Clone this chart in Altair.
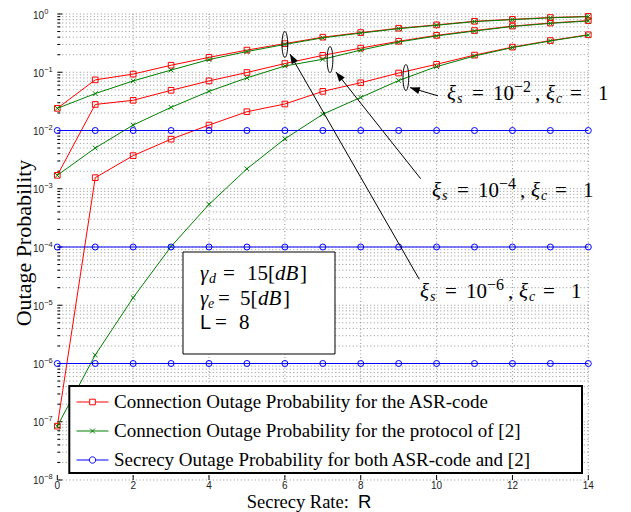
import json
import altair as alt
import pandas as pd

# ---------------- data ----------------
R = list(range(15))
ASR_XI2 = [0.024, 0.074, 0.093, 0.132, 0.18, 0.24, 0.31, 0.40, 0.48, 0.57, 0.65, 0.75, 0.81, 0.87, 0.91]
ASR_XI4 = [0.0017, 0.028, 0.033, 0.049, 0.071, 0.099, 0.141, 0.195, 0.26, 0.34, 0.43, 0.52, 0.62, 0.70, 0.77]
ASR_XI6 = [8.4e-8, 0.00155, 0.0037, 0.0071, 0.0124, 0.021, 0.0285, 0.047, 0.066, 0.097, 0.137, 0.197, 0.27, 0.35, 0.44]
P2_XI2 = [0.024, 0.043, 0.071, 0.109, 0.165, 0.227, 0.30, 0.39, 0.47, 0.56, 0.64, 0.74, 0.80, 0.86, 0.90]
P2_XI4 = [0.0017, 0.005, 0.0124, 0.025, 0.047, 0.080, 0.128, 0.167, 0.24, 0.33, 0.42, 0.51, 0.61, 0.69, 0.76]
P2_XI6 = [8.4e-8, 1.4e-6, 1.35e-5, 1.02e-4, 5.4e-4, 0.0022, 0.0072, 0.019, 0.037, 0.072, 0.125, 0.19, 0.265, 0.345, 0.435]
SEC_XI2 = [1e-2, 1e-2, 1e-2, 1e-2, 1e-2, 1e-2, 1e-2, 1e-2, 1e-2, 1e-2, 1e-2, 1e-2, 1e-2, 1e-2, 1e-2]
SEC_XI4 = [1e-4, 1e-4, 1e-4, 1e-4, 1e-4, 1e-4, 1e-4, 1e-4, 1e-4, 1e-4, 1e-4, 1e-4, 1e-4, 1e-4, 1e-4]
SEC_XI6 = [1e-6, 1e-6, 1e-6, 1e-6, 1e-6, 1e-6, 1e-6, 1e-6, 1e-6, 1e-6, 1e-6, 1e-6, 1e-6, 1e-6, 1e-6]

LABELS = ["Connection Outage Probability for the ASR-code",
          "Connection Outage Probability for the protocol of [2]",
          "Secrecy Outage Probability for both ASR-code and [2]"]
COLORS = ["#ff0000", "#008000", "#0000ff"]

X_TICKS = [0, 2, 4, 6, 8, 10, 12, 14]
X_TICK_TEXT = ["0", "2", "4", "6", "8", "10", "12", "14"]
Y_MAJOR = [1e-8, 1e-7, 1e-6, 1e-5, 1e-4, 1e-3, 1e-2, 1e-1, 1e0]
Y_EXP = ["\u22128", "\u22127", "\u22126", "\u22125", "\u22124", "\u22123", "\u22122", "\u22121", "0"]
Y_MINOR = [k * m for m in Y_MAJOR[:-1] for k in range(2, 10)]

X_TITLE = "Secrecy Rate:"
X_TITLE_VAR = "R"
Y_TITLE = "Outage Probability"

# annotation (ellipse / arrow) anchors in data coordinates
ELL_X = [6.00, 7.19, 9.19]
ELL_Y = [0.300, 0.165, 0.0810]
ARR_X0 = [9.544, 9.581, 10.04]
ARR_Y0 = [2.786e-5, 1.486e-3, 0.0393]
ARR_X1 = [6.135, 7.348, 9.30]
ARR_Y1 = [0.205, 0.101, 0.0545]
ARR_ANG = [330.5, 322, 288]

# ---------------- layout constants ----------------
OX, OY = 57.3, 14.0
W, H = 531, 466

xs = alt.Scale(domain=[0, 14], nice=False, zero=False)
ys = alt.Scale(type="log", domain=[1e-8, 1], nice=False)

rows = []
for lab, key, arrs in [(LABELS[0], "asr", [ASR_XI2, ASR_XI4, ASR_XI6]),
                       (LABELS[1], "p2", [P2_XI2, P2_XI4, P2_XI6]),
                       (LABELS[2], "sec", [SEC_XI2, SEC_XI4, SEC_XI6])]:
    for xi, arr in zip(["1e-2", "1e-4", "1e-6"], arrs):
        for r, p in zip(R, arr):
            rows.append({"R": r, "P": p, "scheme": lab, "key": key, "curve": key + xi})
df = pd.DataFrame(rows)

GRID_COLOR = "#777777"
grid_df = pd.DataFrame({"v": Y_MAJOR + Y_MINOR})
vgrid_df = pd.DataFrame({"R": X_TICKS[1:]})
major_df = pd.DataFrame({"v": Y_MAJOR, "e": Y_EXP, "b": ["10"] * len(Y_MAJOR)})
minor_df = pd.DataFrame({"v": Y_MINOR})
xt_df = pd.DataFrame({"R": X_TICKS, "t": X_TICK_TEXT})


def xq(f, axis=None):
    return alt.X(f, type="quantitative", scale=xs, axis=axis)


def yq(f, axis=None):
    return alt.Y(f, type="quantitative", scale=ys, axis=axis)


x_axis = alt.Axis(values=X_TICKS, grid=False, ticks=False, labels=False, domainColor="black", title=None)
y_axis = alt.Axis(values=Y_MAJOR, grid=False, ticks=False, labels=False, domainColor="black", title=None)

layers = []
# grids (also carry the axis lines)
layers.append(alt.Chart(vgrid_df).mark_rule(color=GRID_COLOR, strokeWidth=0.8, strokeDash=[1, 2.5])
              .encode(x=xq("R", x_axis)))
layers.append(alt.Chart(grid_df).mark_rule(color=GRID_COLOR, strokeWidth=0.8, strokeDash=[1, 2.5])
              .encode(y=yq("v", y_axis)))
# inward ticks
layers.append(alt.Chart(major_df).mark_rule(color="black", strokeWidth=1)
              .encode(y=yq("v"), x=alt.value(0), x2=alt.value(5)))
layers.append(alt.Chart(minor_df).mark_rule(color="black", strokeWidth=1)
              .encode(y=yq("v"), x=alt.value(0), x2=alt.value(3)))
layers.append(alt.Chart(xt_df).mark_rule(color="black", strokeWidth=1)
              .encode(x=xq("R"), y=alt.value(H), y2=alt.value(H - 5)))
# tick labels
layers.append(alt.Chart(major_df).mark_text(align="right", baseline="middle", font="Liberation Sans",
                                            fontSize=10, color="#222222", dy=1.5)
              .encode(y=yq("v"), x=alt.value(-13.3), text="b:N"))
layers.append(alt.Chart(major_df).mark_text(align="left", baseline="middle", font="Liberation Sans",
                                            fontSize=7.5, color="#222222", dy=-2.5)
              .encode(y=yq("v"), x=alt.value(-13.1), text="e:N"))
layers.append(alt.Chart(xt_df).mark_text(align="center", baseline="middle", font="Liberation Sans",
                                         fontSize=10, color="#222222")
              .encode(x=xq("R"), y=alt.value(H + 6), text="t:N"))
# axis titles
layers.append(alt.Chart(pd.DataFrame({"t": [Y_TITLE]})).mark_text(
    align="center", baseline="middle", font="Liberation Serif", fontSize=22, color="black", angle=270)
    .encode(text="t:N", x=alt.value(24 - OX), y=alt.value(243 - OY)))
layers.append(alt.Chart(pd.DataFrame({"t": [X_TITLE]})).mark_text(
    align="left", baseline="alphabetic", font="Liberation Serif", fontSize=18.5, color="black")
    .encode(text="t:N", x=alt.value(246.7 - OX), y=alt.value(508.5 - OY)))
layers.append(alt.Chart(pd.DataFrame({"t": [X_TITLE_VAR]})).mark_text(
    align="left", baseline="alphabetic", font="Liberation Sans", fontSize=18.5, color="black")
    .encode(text="t:N", x=alt.value(358 - OX), y=alt.value(508.5 - OY)))

# data curves
markers = {
    "asr": dict(shape="square", size=32),
    "p2": dict(shape="M-1,-1L1,1M-1,1L1,-1", size=22),
    "sec": dict(shape="circle", size=36),
}
for key, col in zip(["asr", "p2", "sec"], COLORS):
    sub = df[df["key"] == key]
    line = alt.Chart(sub).mark_line(color=col, strokeWidth=1).encode(
        x=xq("R"), y=yq("P"), detail="curve:N")
    pts = alt.Chart(sub).mark_point(color=col, filled=False, strokeWidth=1, opacity=1, **markers[key]).encode(
        x=xq("R"), y=yq("P"))
    layers += [line, pts]

# ellipses & arrows
ELLIPSE = ("M0,-1 C0.1215,-1 0.22,-0.5523 0.22,0 C0.22,0.5523 0.1215,1 0,1 "
           "C-0.1215,1 -0.22,0.5523 -0.22,0 C-0.22,-0.5523 -0.1215,-1 0,-1 Z")
ARROW = "M0,0 L-0.36,1 L0.36,1 Z"
ell_df = pd.DataFrame({"x": ELL_X, "y": ELL_Y})
arr_df = pd.DataFrame({"x0": ARR_X0, "y0": ARR_Y0, "x1": ARR_X1, "y1": ARR_Y1, "ang": ARR_ANG})
layers.append(alt.Chart(ell_df).mark_point(shape=ELLIPSE, size=676, filled=False, color="black",
                                           strokeWidth=1, opacity=1).encode(x=xq("x"), y=yq("y")))
layers.append(alt.Chart(arr_df).mark_rule(color="black", strokeWidth=1).encode(
    x=xq("x0"), y=yq("y0"), x2="x1:Q", y2="y1:Q"))
layers.append(alt.Chart(arr_df).mark_point(shape=ARROW, size=380, filled=True, color="black", opacity=1)
              .encode(x=xq("x1"), y=yq("y1"), angle=alt.Angle("ang:Q", scale=None)))

dummy = pd.DataFrame({"a": [0]})
# legend box and parameter box
layers.append(alt.Chart(dummy).mark_rect(fill="white", stroke="black", strokeWidth=2).encode(
    x=alt.value(69.3 - OX), x2=alt.value(582 - OX), y=alt.value(386 - OY), y2=alt.value(473 - OY)))
layers.append(alt.Chart(dummy).mark_rect(fill="white", stroke="black", strokeWidth=1).encode(
    x=alt.value(183 - OX), x2=alt.value(335 - OX), y=alt.value(252 - OY), y2=alt.value(354 - OY)))


def txt(s, x, y, size, italic=False, font="Liberation Serif"):
    return alt.Chart(pd.DataFrame({"t": [s]})).mark_text(
        align="left", baseline="alphabetic", font=font, fontSize=size,
        fontStyle="italic" if italic else "normal", color="black").encode(
        text="t:N", x=alt.value(x - OX), y=alt.value(y - OY))


# xi labels
for x0, b, ex in [(447, 100, "\u22122"), (432, 197, "\u22124"), (420, 298, "\u22126")]:
    layers += [
        txt("\u03be", x0, b, 21, True),
        txt("s", x0 + 10, b + 3, 14, True),
        txt("=", x0 + 25, b, 21),
        txt("10", x0 + 46, b, 21),
        txt(ex, x0 + 67, b - 8, 16),
        txt(",", x0 + 88, b, 21),
        txt("\u03be", x0 + 99, b, 21, True),
        txt("c", x0 + 109, b + 3, 14, True),
        txt("=", x0 + 123, b, 21),
        txt("1", x0 + 151, b, 21),
    ]

# parameter box text
layers += [
    txt("\u03b3", 200, 280, 21, True), txt("d", 209, 283, 14, True), txt("=", 223, 280, 21),
    txt("15[", 247, 280, 21), txt("dB", 275, 280, 21, True), txt("]", 300, 280, 21),
    txt("\u03b3", 200, 305, 21, True), txt("e", 208, 308, 14, True), txt("=", 218, 305, 21),
    txt("5[", 240, 305, 21), txt("dB", 258, 305, 21, True), txt("]", 283, 305, 21),
    txt("L", 200, 329, 20, False, "Liberation Sans"), txt("=", 215, 329, 21), txt("8", 239, 329, 21),
]

# legend (custom symbols: line with marker)
LEG_PATHS = [
    "M-2,0 L-0.35,0 M-0.35,-0.35 L0.35,-0.35 L0.35,0.35 L-0.35,0.35 Z M0.35,0 L2,0",
    "M-2,0 L2,0 M-0.3,-0.3 L0.3,0.3 M-0.3,0.3 L0.3,-0.3",
    "M-2,0 L-0.4,0 M0.4,0 C0.4,0.221 0.221,0.4 0,0.4 C-0.221,0.4 -0.4,0.221 -0.4,0 "
    "C-0.4,-0.221 -0.221,-0.4 0,-0.4 C0.221,-0.4 0.4,-0.221 0.4,0 L2,0",
]
leg = alt.Legend(orient="none", legendX=83 - OX, legendY=392.5 - OY, title=None, padding=0,
                 labelFont="Liberation Serif", labelFontSize=19, labelColor="black", labelLimit=700,
                 symbolSize=256, symbolStrokeWidth=1, labelOffset=12, rowPadding=9)
layers.append(alt.Chart(df).transform_filter("false").mark_point(filled=False, strokeWidth=1, opacity=1)
              .encode(x=xq("R"), y=yq("P"),
                      color=alt.Color("scheme:N", scale=alt.Scale(domain=LABELS, range=COLORS), legend=leg),
                      shape=alt.Shape("scheme:N", scale=alt.Scale(domain=LABELS, range=LEG_PATHS), legend=leg)))

chart = alt.layer(*layers).properties(
    width=W, height=H, autosize=alt.AutoSizeParams(type="none"),
    padding={"left": OX - 8, "top": OY - 8, "right": 20, "bottom": 32},
).configure_view(stroke=None)

chart.save("out.html", embed_options={"renderer": "svg", "actions": False})
